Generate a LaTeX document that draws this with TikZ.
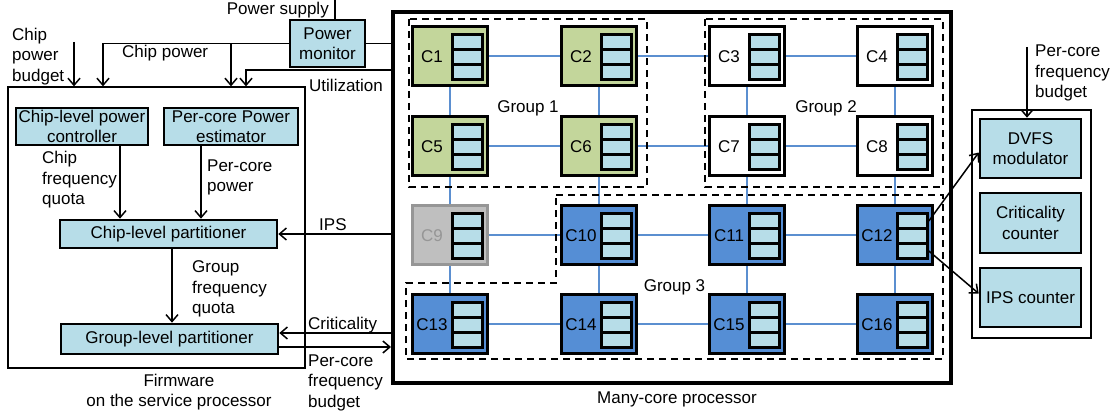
\documentclass[tikz,border=0pt]{standalone}
\usepackage{fontspec}
\setmainfont{Liberation Sans}
\usetikzlibrary{arrows.meta,backgrounds}
\definecolor{lblue}{RGB}{183,221,232}
\definecolor{cgreen}{RGB}{195,214,155}
\definecolor{cblue}{RGB}{85,142,213}
\definecolor{cgray}{RGB}{191,191,191}
\definecolor{dgray}{RGB}{150,150,150}
\definecolor{meshc}{RGB}{91,143,208}
\newcommand\mkcore[6]{%
  \node[core,#4] (#1) at (#2,#3) {};
  \node[text=#6] (#1l) at (#2-18,#3+1) {#5};
  \node[cell] (#1a) at (#2+17.5,#3-14) {};
  \node[cell] (#1b) at (#2+17.5,#3+1) {};
  \node[cell] (#1c) at (#2+17.5,#3+16) {};
}
\begin{document}
\begin{tikzpicture}[x=1pt,y=-1pt,
  every node/.style={font=\fontsize{17}{20.5}\selectfont, inner sep=0pt},
  bbox/.style={draw, line width=2.6pt, fill=lblue, align=center},
  core/.style={draw, line width=2.8pt, minimum width=75pt, minimum height=59pt},
  gcore/.style={fill=cgreen},
  bcore/.style={fill=cblue},
  wcore/.style={fill=white},
  xcore/.style={fill=cgray, draw=dgray},
  cell/.style={draw, line width=2.6pt, fill=lblue, minimum width=30pt, minimum height=15pt},
  mesh/.style={draw=meshc, line width=1.3pt},
  grp/.style={draw, line width=2.4pt, dash pattern=on 7pt off 5pt},
  conn/.style={line width=1.5pt},
  arr/.style={conn, -{Straight Barb[length=7pt,width=12pt]}},
  lab/.style={align=left}
]
\useasboundingbox (0,0) rectangle (1115,417);

% outer frames
\node[draw, line width=1.3pt, minimum width=297pt, minimum height=281pt] (fw) at (156.5,227.5) {};
\node[draw, line width=4pt, minimum width=558pt, minimum height=371pt] (main) at (672,197.5) {};
\node[draw, line width=1.3pt, minimum width=119pt, minimum height=228pt] (rb) at (1031.5,224) {};

% firmware boxes
\node[bbox, minimum width=132pt, minimum height=37pt] (cpc) at (82,126.5) {Chip-level power\\controller};
\node[bbox, minimum width=134pt, minimum height=37pt] (pe) at (231,126.5) {Per-core Power\\estimator};
\node[bbox, minimum width=217pt, minimum height=28pt] (cp) at (168.5,234) {Chip-level partitioner};
\node[bbox, minimum width=217pt, minimum height=30pt] (gp) at (169.5,339) {Group-level partitioner};
\node[bbox, minimum width=75pt, minimum height=47pt] (pm) at (327.5,43.5) {Power\\monitor};

% right boxes
\node[bbox, minimum width=101pt, minimum height=59pt] (dvfs) at (1030.5,148.5) {DVFS\\modulator};
\node[bbox, minimum width=101pt, minimum height=60pt] (cc) at (1030.5,223) {Criticality\\counter};
\node[bbox, minimum width=101pt, minimum height=59pt] (ipsc) at (1030.5,297.5) {IPS counter};

% cores
\mkcore{c1}{450}{56}{gcore}{C1}{black}
\mkcore{c2}{599}{56}{gcore}{C2}{black}
\mkcore{c3}{747}{56}{wcore}{C3}{black}
\mkcore{c4}{895}{56}{wcore}{C4}{black}
\mkcore{c5}{450}{146}{gcore}{C5}{black}
\mkcore{c6}{599}{146}{gcore}{C6}{black}
\mkcore{c7}{747}{146}{wcore}{C7}{black}
\mkcore{c8}{895}{146}{wcore}{C8}{black}
\mkcore{c9}{450}{235}{xcore}{C9}{dgray}
\mkcore{c10}{599}{235}{bcore}{C10}{black}
\mkcore{c11}{747}{235}{bcore}{C11}{black}
\mkcore{c12}{895}{235}{bcore}{C12}{black}
\mkcore{c13}{450}{324}{bcore}{C13}{black}
\mkcore{c14}{599}{324}{bcore}{C14}{black}
\mkcore{c15}{747}{324}{bcore}{C15}{black}
\mkcore{c16}{895}{324}{bcore}{C16}{black}

\begin{pgfonlayer}{background}
\draw[mesh] (c1) -- (c2); \draw[mesh] (c2) -- (c3); \draw[mesh] (c3) -- (c4);
\draw[mesh] (c5) -- (c6); \draw[mesh] (c6) -- (c7); \draw[mesh] (c7) -- (c8);
\draw[mesh] (c9) -- (c10); \draw[mesh] (c10) -- (c11); \draw[mesh] (c11) -- (c12);
\draw[mesh] (c13) -- (c14); \draw[mesh] (c14) -- (c15); \draw[mesh] (c15) -- (c16);
\draw[mesh] (c1) -- (c5); \draw[mesh] (c5) -- (c9); \draw[mesh] (c9) -- (c13);
\draw[mesh] (c2) -- (c6); \draw[mesh] (c6) -- (c10); \draw[mesh] (c10) -- (c14);
\draw[mesh] (c3) -- (c7); \draw[mesh] (c7) -- (c11); \draw[mesh] (c11) -- (c15);
\draw[mesh] (c4) -- (c8); \draw[mesh] (c8) -- (c12); \draw[mesh] (c12) -- (c16);
\end{pgfonlayer}

% groups
\draw[grp] (409,19) rectangle (647,187);
\draw[grp] (705,19) rectangle (943,187);
\draw[grp] (556,195) -- (943,195) -- (943,359) -- (406,359) -- (406,283) -- (556,283) -- cycle;
\node[anchor=base] (g1) at (528,113) {Group 1};
\node[anchor=base] (g2) at (826,113) {Group 2};
\node[anchor=base] (g3) at (674.5,291) {Group 3};

% connectors
\coordinate (ps) at (335,0);
\draw[conn] (ps) -- (ps |- pm.north);
\draw[conn] (pm.east) -- (pm.east -| main.west);
\coordinate (xbud) at (74,42);
\draw[arr] (xbud) -- (xbud |- fw.north);
\coordinate (xcp1) at (103,0);
\coordinate (xcp2) at (231,0);
\draw[arr] (pm.west) -| (xcp1 |- fw.north);
\draw[arr] (xcp2 |- pm.west) -- (xcp2 |- fw.north);
\coordinate (ut) at (246,70);
\draw[arr] (main.west |- ut) -| (ut |- fw.north);
\draw[arr] (main.west |- cp.east) -- (cp.east);
\coordinate (xq) at (120,0);
\draw[arr] (cpc.south -| xq) -- (cp.north -| xq);
\coordinate (xpp) at (201,0);
\draw[arr] (pe.south -| xpp) -- (cp.north -| xpp);
\coordinate (xg) at (172,0);
\draw[arr] (cp.south -| xg) -- (gp.north -| xg);
\coordinate (crit) at ([yshift=6pt]gp.east);
\coordinate (pcb) at ([yshift=-8pt]gp.east);
\draw[arr] (crit -| main.west) -- (crit);
\draw[arr] (pcb) -- (pcb -| main.west);
\coordinate (pcf) at (1027,47);
\draw[arr] (pcf) -- (pcf |- dvfs.north);
\draw[arr] (c12a.east) -- ([yshift=-4pt]dvfs.west);
\draw[arr] (c12c.east) -- ([yshift=4pt]ipsc.west);

% labels
\node[anchor=base east] (lps) at (329,15) {Power supply};
\node[lab, anchor=north west] (lcpb) at (12,27.5) {Chip\\power\\budget};
\node[anchor=base west] (lcp) at (122,58) {Chip power};
\node[anchor=base west] (lut) at (309,92) {Utilization};
\node[lab, anchor=north west] (lcfq) at (42,151) {Chip\\frequency\\quota};
\node[lab, anchor=north west] (lpcp) at (207,159.5) {Per-core\\power};
\node[lab, anchor=north west] (lgfq) at (192,260.5) {Group\\frequency\\quota};
\node[anchor=base west] (lips) at (319,230) {IPS};
\node[anchor=base west] (lcrit) at (308,329) {Criticality};
\node[lab, anchor=north west] (lpcfb) at (308,354.5) {Per-core\\frequency\\budget};
\node[align=center, anchor=north] (lfw) at (179,373.5) {Firmware\\on the service processor};
\node[anchor=base] (lmc) at (677,403) {Many-core processor};
\node[lab, anchor=north west] (lpcfr) at (1035,45) {Per-core\\frequency\\budget};
\end{tikzpicture}
\end{document}
